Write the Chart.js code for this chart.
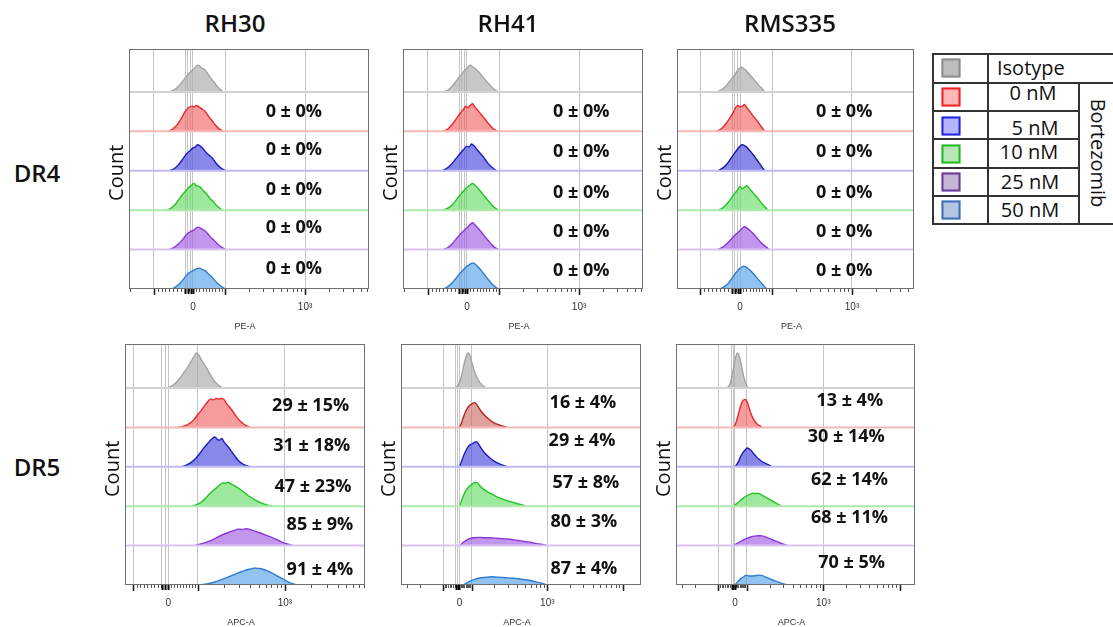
<!DOCTYPE html>
<html><head><meta charset="utf-8">
<script src="https://cdn.jsdelivr.net/npm/chart.js@4.4.1/dist/chart.umd.min.js"></script>
<style>
html,body{margin:0;padding:0;background:#fff;width:1113px;height:627px;overflow:hidden;position:relative;font-family:"Open Sans",sans-serif;color:#111;}
.panel{position:absolute;}
.lbl{position:absolute;transform:translate(-50%,-50%);white-space:nowrap;line-height:1;}
.title{font-size:24px;font-weight:600;}
.rowlab{font-size:24px;font-weight:600;}
.ln{position:absolute;background:#333;}
.sw{position:absolute;width:15px;height:15px;border:2px solid #000;transform:translate(-50%,-50%);}
.lt{position:absolute;font-size:20px;line-height:1;white-space:nowrap;transform:translate(-50%,-50%);}
</style></head><body>
<script>
// ---------------- DATA ----------------
const categories = ['Isotype', '0 nM', '5 nM', '10 nM', '25 nM', '50 nM'];
const treatmentName = 'Bortezomib';
const cellLines = ['RH30', 'RH41', 'RMS335'];
const receptors = ['DR4', 'DR5'];
const xTickLabels = ['0', '10³'];
const axisTitles = ['PE-A', 'APC-A'];
const yAxisTitle = 'Count';

// % positive cells (0 nM .. 50 nM)
const pct_RH30_DR4   = ['0 ± 0%', '0 ± 0%', '0 ± 0%', '0 ± 0%', '0 ± 0%'];
const pct_RH41_DR4   = ['0 ± 0%', '0 ± 0%', '0 ± 0%', '0 ± 0%', '0 ± 0%'];
const pct_RMS335_DR4 = ['0 ± 0%', '0 ± 0%', '0 ± 0%', '0 ± 0%', '0 ± 0%'];
const pct_RH30_DR5   = ['29 ± 15%', '31 ± 18%', '47 ± 23%', '85 ± 9%', '91 ± 4%'];
const pct_RH41_DR5   = ['16 ± 4%', '29 ± 4%', '57 ± 8%', '80 ± 3%', '87 ± 4%'];
const pct_RMS335_DR5 = ['13 ± 4%', '30 ± 14%', '62 ± 14%', '68 ± 11%', '70 ± 5%'];

// histograms: [fluorescence (display units, 0 = "0", 100 = "10³"), relative count]
// order: Isotype, 0, 5, 10, 25, 50 nM
const hist_RH30_DR4 = [
 [[-21,0],[-17,0.05],[-13,0.14],[-9,0.28],[-5,0.42],[-2,0.52],[0,0.56],[2,0.62],[4,0.68],[6,0.66],[8,0.6],[10,0.58],[13,0.47],[16,0.35],[19,0.24],[22,0.13],[25,0.05],[27,0]],
 [[-22,0],[-18,0.06],[-14,0.17],[-10,0.35],[-7,0.5],[-4,0.6],[-1,0.64],[1,0.62],[3,0.66],[5,0.63],[8,0.57],[11,0.5],[14,0.38],[17,0.27],[20,0.16],[23,0.07],[27,0]],
 [[-21,0],[-17,0.05],[-13,0.15],[-9,0.3],[-6,0.42],[-3,0.5],[0,0.58],[2,0.6],[4,0.66],[6,0.64],[9,0.56],[12,0.46],[15,0.38],[18,0.3],[21,0.18],[25,0.07],[29,0]],
 [[-23,0],[-19,0.06],[-15,0.17],[-11,0.33],[-7,0.47],[-4,0.57],[-1,0.64],[1,0.68],[3,0.62],[6,0.6],[9,0.5],[12,0.42],[15,0.3],[18,0.22],[21,0.12],[24,0.05],[26,0]],
 [[-21,0],[-17,0.05],[-13,0.14],[-9,0.26],[-5,0.4],[-2,0.46],[1,0.5],[3,0.55],[5,0.57],[7,0.54],[10,0.49],[13,0.41],[16,0.31],[19,0.23],[22,0.14],[26,0.05],[29,0]],
 [[-19,0],[-15,0.06],[-11,0.16],[-7,0.3],[-4,0.4],[-1,0.45],[2,0.5],[4,0.52],[6,0.53],[8,0.5],[11,0.46],[14,0.38],[17,0.3],[20,0.2],[23,0.12],[26,0.05],[29,0]]
];
const hist_RH41_DR4 = [
 [[-21,0],[-17,0.05],[-13,0.15],[-9,0.3],[-5,0.44],[-2,0.55],[0,0.6],[3,0.68],[5,0.64],[7,0.6],[10,0.52],[13,0.42],[16,0.32],[19,0.22],[22,0.13],[25,0.05],[28,0]],
 [[-21,0],[-17,0.06],[-13,0.18],[-9,0.34],[-6,0.46],[-3,0.56],[-1,0.64],[1,0.6],[3,0.66],[5,0.7],[7,0.62],[10,0.52],[13,0.42],[16,0.32],[19,0.2],[23,0.08],[27,0]],
 [[-22,0],[-18,0.06],[-14,0.16],[-10,0.3],[-6,0.44],[-3,0.54],[0,0.62],[2,0.6],[4,0.68],[6,0.64],[9,0.54],[12,0.44],[15,0.34],[18,0.22],[21,0.12],[24,0.05],[26,0]],
 [[-21,0],[-17,0.05],[-13,0.14],[-9,0.28],[-5,0.42],[-2,0.52],[1,0.6],[3,0.64],[5,0.68],[7,0.64],[10,0.55],[13,0.45],[16,0.34],[19,0.24],[22,0.14],[25,0.06],[28,0]],
 [[-21,0],[-17,0.05],[-13,0.15],[-9,0.29],[-5,0.42],[-2,0.5],[1,0.58],[3,0.64],[5,0.68],[7,0.63],[10,0.54],[13,0.44],[16,0.33],[19,0.23],[22,0.13],[25,0.05],[28,0]],
 [[-21,0],[-17,0.06],[-13,0.16],[-9,0.3],[-5,0.43],[-2,0.52],[1,0.6],[3,0.63],[5,0.66],[7,0.64],[10,0.56],[13,0.46],[16,0.35],[19,0.24],[22,0.14],[25,0.06],[28,0]]
];
const hist_RMS335_DR4 = [
 [[-21,0],[-17,0.05],[-13,0.14],[-9,0.28],[-5,0.42],[-2,0.55],[1,0.63],[3,0.6],[5,0.56],[8,0.46],[11,0.36],[14,0.26],[17,0.16],[20,0.07],[22,0]],
 [[-21,0],[-17,0.06],[-13,0.18],[-9,0.34],[-6,0.48],[-4,0.6],[-2,0.66],[0,0.62],[2,0.64],[4,0.68],[6,0.6],[9,0.5],[12,0.38],[15,0.28],[18,0.16],[20,0.08],[22,0]],
 [[-20,0],[-16,0.06],[-12,0.16],[-8,0.32],[-5,0.44],[-2,0.56],[0,0.62],[2,0.66],[4,0.64],[6,0.6],[9,0.5],[12,0.4],[15,0.28],[18,0.16],[20,0.08],[22,0]],
 [[-20,0],[-16,0.05],[-12,0.15],[-8,0.3],[-5,0.42],[-2,0.52],[0,0.6],[2,0.54],[4,0.58],[6,0.62],[8,0.56],[11,0.46],[14,0.36],[17,0.26],[20,0.15],[23,0.06],[25,0]],
 [[-20,0],[-16,0.05],[-12,0.14],[-8,0.26],[-4,0.38],[-1,0.46],[2,0.54],[4,0.58],[6,0.55],[9,0.48],[12,0.4],[15,0.3],[18,0.2],[21,0.12],[24,0.05],[26,0]],
 [[-18,0],[-14,0.06],[-10,0.16],[-7,0.28],[-4,0.4],[-1,0.5],[1,0.54],[3,0.58],[5,0.56],[8,0.5],[11,0.42],[14,0.32],[17,0.22],[20,0.12],[22,0.05],[24,0]]
];
const hist_RH30_DR5 = [
 [[-2,0],[2,0.04],[6,0.12],[10,0.25],[13,0.38],[16,0.5],[18,0.6],[20,0.7],[22,0.8],[24,0.89],[26,0.84],[28,0.74],[30,0.64],[33,0.5],[36,0.34],[39,0.2],[42,0.1],[45,0.03],[47,0]],
 [[9,0],[14,0.04],[18,0.1],[22,0.2],[25,0.32],[28,0.42],[31,0.55],[34,0.66],[36,0.72],[39,0.7],[41,0.74],[43,0.72],[46,0.74],[48,0.7],[50,0.6],[53,0.5],[56,0.38],[59,0.25],[62,0.15],[66,0.06],[70,0]],
 [[11,0],[15,0.04],[19,0.1],[23,0.2],[27,0.34],[31,0.5],[34,0.6],[37,0.7],[40,0.76],[42,0.7],[44,0.68],[46,0.72],[48,0.62],[51,0.52],[54,0.4],[57,0.28],[60,0.16],[64,0.07],[70,0]],
 [[20,0],[25,0.05],[29,0.12],[33,0.24],[37,0.36],[41,0.46],[44,0.54],[47,0.6],[49,0.58],[51,0.61],[54,0.56],[58,0.5],[62,0.42],[66,0.33],[70,0.24],[75,0.15],[80,0.08],[85,0.03],[90,0]],
 [[22,0],[28,0.04],[34,0.1],[40,0.18],[46,0.27],[52,0.34],[56,0.38],[60,0.42],[63,0.41],[67,0.43],[71,0.4],[76,0.35],[81,0.3],[86,0.24],[91,0.18],[96,0.11],[101,0.05],[107,0]],
 [[27,0],[33,0.03],[39,0.07],[45,0.13],[51,0.2],[57,0.27],[62,0.33],[67,0.38],[71,0.41],[74,0.43],[77,0.42],[81,0.4],[85,0.36],[89,0.3],[94,0.22],[99,0.14],[104,0.06],[110,0]]
];
const hist_RH41_DR5 = [
 [[-5,0],[-2,0.06],[1,0.2],[3,0.38],[5,0.58],[7,0.76],[9,0.88],[10,0.89],[12,0.82],[14,0.66],[16,0.5],[18,0.36],[21,0.22],[24,0.12],[27,0.05],[31,0]],
 [[0,0],[2,0.1],[5,0.3],[8,0.45],[11,0.55],[14,0.6],[17,0.63],[19,0.6],[22,0.5],[25,0.4],[29,0.3],[33,0.22],[37,0.15],[42,0.09],[47,0.05],[51,0.03],[54,0]],
 [[0,0],[2,0.12],[5,0.3],[8,0.44],[11,0.54],[14,0.58],[17,0.62],[19,0.64],[21,0.6],[24,0.5],[27,0.4],[31,0.3],[35,0.22],[40,0.14],[45,0.08],[50,0.04],[55,0]],
 [[0,0],[2,0.12],[5,0.3],[8,0.42],[11,0.5],[14,0.55],[17,0.6],[20,0.6],[23,0.52],[27,0.44],[31,0.38],[36,0.32],[41,0.26],[47,0.2],[53,0.15],[59,0.11],[65,0.07],[71,0.04],[75,0]],
 [[1,0],[4,0.08],[8,0.14],[12,0.18],[16,0.2],[22,0.21],[28,0.2],[34,0.2],[40,0.19],[46,0.18],[52,0.17],[58,0.16],[64,0.14],[70,0.12],[76,0.1],[82,0.08],[88,0.05],[94,0.03],[100,0]],
 [[4,0],[8,0.05],[12,0.1],[17,0.14],[22,0.17],[27,0.19],[32,0.2],[37,0.21],[43,0.2],[49,0.19],[55,0.18],[61,0.17],[67,0.16],[73,0.14],[79,0.12],[85,0.09],[91,0.06],[96,0.03],[100,0]]
];
const hist_RMS335_DR5 = [
 [[-9,0],[-7,0.05],[-5,0.15],[-3,0.35],[-1,0.6],[1,0.8],[3,0.89],[5,0.8],[7,0.6],[9,0.38],[11,0.2],[13,0.08],[15,0]],
 [[-2,0],[0,0.06],[2,0.18],[4,0.35],[6,0.52],[8,0.64],[10,0.7],[12,0.71],[14,0.64],[16,0.5],[18,0.36],[20,0.25],[23,0.14],[26,0.07],[29,0.03],[31,0]],
 [[0,0],[2,0.06],[4,0.14],[6,0.24],[9,0.36],[12,0.44],[14,0.48],[16,0.46],[18,0.42],[21,0.34],[24,0.26],[27,0.2],[31,0.13],[35,0.08],[39,0.04],[42,0]],
 [[-2,0],[1,0.05],[5,0.12],[9,0.2],[13,0.26],[17,0.3],[20,0.33],[23,0.32],[26,0.33],[29,0.3],[33,0.25],[37,0.2],[41,0.15],[45,0.1],[49,0.05],[53,0]],
 [[-2,0],[2,0.05],[6,0.1],[10,0.15],[14,0.19],[18,0.22],[22,0.24],[26,0.25],[29,0.25],[32,0.24],[36,0.21],[40,0.17],[44,0.13],[48,0.1],[52,0.06],[56,0.03],[59,0]],
 [[0,0],[3,0.08],[6,0.15],[10,0.21],[13,0.25],[16,0.23],[20,0.23],[24,0.24],[28,0.25],[31,0.24],[35,0.2],[39,0.16],[43,0.12],[47,0.09],[51,0.06],[55,0.03],[60,0]]
];

// ---------------- STYLE / LAYOUT ----------------
const lineColors = ['#a3a3a3', '#e8282a', '#1c1cc0', '#22c422', '#8a38d8', '#2f7dd0'];
const fillColors = ['rgba(175,175,175,0.7)', 'rgba(240,95,95,0.62)', 'rgba(85,85,222,0.7)', 'rgba(95,218,95,0.62)', 'rgba(165,100,228,0.68)', 'rgba(95,165,232,0.68)'];
const baseColors = ['#d2d2d2', '#f5b8b8', '#bcbcf2', '#aeeaae', '#dcc2f2'];
const swatchFill = ['#bdbdbd', '#ffb7b7', '#b5b5ff', '#b7e6b7', '#c4b5d5', '#b5c5e1'];
const swatchLine = ['#8d8d8d', '#f02222', '#2222e0', '#22bb22', '#6a3c96', '#3c70b4'];

const PL = 34, PR = 8, PT = 4, AX = 46;
const panels = [
 {left:129, top:49, w:240, h:240, xMin:-57, xMax:157, yMax:6.09, grid:[-35,-7,-4.5,-2,0,28.6,100], neg:-35, pos:28.6,
  hist:hist_RH30_DR4, pct:pct_RH30_DR4, pctX:[90,90,90,90,90], pctY:[4.5,3.52,2.52,1.56,0.52], axis:0},
 {left:403, top:49, w:240, h:240, xMin:-57, xMax:157, yMax:6.09, grid:[-35,-7,-4.5,-2,0,28.6,100], neg:-35, pos:28.6,
  hist:hist_RH41_DR4, pct:pct_RH41_DR4, pctX:[102,102,102,102,102], pctY:[4.5,3.49,2.44,1.44,0.46], axis:0},
 {left:677, top:49, w:237, h:240, xMin:-56.3, xMax:155.4, yMax:6.09, grid:[-35.7,-7.1,-4.5,-2.2,0,28.6,100], neg:-35.7, pos:28.6,
  hist:hist_RMS335_DR4, pct:pct_RMS335_DR4, pctX:[93,93,93,93,93], pctY:[4.5,3.49,2.44,1.44,0.46], axis:0,
  lineOverride:{2:'#1a1aa0'}},
 {left:125, top:344, w:240, h:241, xMin:-37.1, xMax:168.6, yMax:6.12, grid:[-30,-5.7,-2.8,0,25.2,100], neg:-30, pos:25.2,
  hist:hist_RH30_DR5, pct:pct_RH30_DR5, pctX:[122,123,124,130,130], pctY:[4.56,3.54,2.48,1.52,0.38], axis:1},
 {left:401, top:344, w:240, h:241, xMin:-66.6, xMax:206.7, yMax:6.12, grid:[-18.5,-4,-2,0,13.9,100], neg:-18.5, pos:13.9,
  hist:hist_RH41_DR5, pct:pct_RH41_DR5, pctX:[140.6,139.5,144,141.7,141.7], pctY:[4.62,3.67,2.6,1.6,0.42], axis:1,
  lineOverride:{1:'#b5261f'}, fillOverride:{1:'rgba(205,110,105,0.65)'}},
 {left:676, top:344, w:239, h:241, xMin:-66.8, xMax:203.9, yMax:6.12, grid:[-18.9,-3.7,-1.9,0,13.2,100], neg:-18.9, pos:13.2,
  hist:hist_RMS335_DR5, pct:pct_RMS335_DR5, pctX:[130,126,129.7,129.7,132], pctY:[4.68,3.75,2.68,1.7,0.56], axis:1}
];

function makeDeco(p) {
  return {
    id: 'deco',
    afterDatasetsDraw(chart) {
      const {ctx, chartArea: a, scales: {x, y}} = chart;
      ctx.save();
      // frame
      ctx.strokeStyle = '#707070'; ctx.lineWidth = 1;
      ctx.strokeRect(Math.round(a.left) + 0.5, Math.round(a.top) + 0.5, Math.round(a.right - a.left) - 1, Math.round(a.bottom - a.top) - 1);
      // tick marks of the biexponential axis
      const L = 100 - p.pos;
      const minor = [];
      for (let k = 1; k < 10; k++) { minor.push(p.neg * k / 10); minor.push(p.pos * k / 10); }
      for (let d = p.pos; d <= p.xMax; d += L) for (let k = 2; k < 10; k++) minor.push(d + L * Math.log10(k));
      for (let d = p.neg; d >= p.xMin; d -= L) for (let k = 2; k < 10; k++) minor.push(d - L * Math.log10(k));
      const major = [p.neg, p.pos, 100, 100 + L, p.neg - L];
      const bot = Math.round(a.bottom);
      const tick = (v, len, w, col) => {
        if (v < p.xMin || v > p.xMax) return;
        const px = Math.round(x.getPixelForValue(v)) + 0.5;
        ctx.beginPath(); ctx.strokeStyle = col; ctx.lineWidth = w;
        ctx.moveTo(px, bot); ctx.lineTo(px, bot + len); ctx.stroke();
      };
      minor.forEach(v => tick(v, 3, 1, '#555'));
      major.forEach(v => tick(v, 6, 1.6, '#222'));
      p.grid.filter(v => v > p.neg && v < p.pos).forEach(v => tick(v, 5, 2, '#000'));
      // percentages
      ctx.fillStyle = '#111'; ctx.textAlign = 'center'; ctx.textBaseline = 'middle';
      ctx.font = 'bold 18px "Open Sans"';
      p.pct.forEach((t, i) => ctx.fillText(t, x.getPixelForValue(p.pctX[i]), y.getPixelForValue(p.pctY[i])));
      // axis titles
      ctx.font = '9px "Liberation Sans"'; ctx.fillStyle = '#333';
      ctx.fillText(axisTitles[p.axis], (a.left + a.right) / 2 - 4, a.bottom + 38);
      ctx.font = '20px "Open Sans"'; ctx.fillStyle = '#111';
      ctx.translate(a.left - 12, y.getPixelForValue(2.95));
      ctx.rotate(-Math.PI / 2);
      ctx.fillText(yAxisTitle, 0, 0);
      ctx.restore();
    }
  };
}

function buildChart(p) {
  const W = p.w + PL + PR, H = p.h + PT + AX;
  const div = document.createElement('div');
  div.className = 'panel';
  Object.assign(div.style, {left: (p.left - PL) + 'px', top: (p.top - PT) + 'px', width: W + 'px', height: H + 'px'});
  const cv = document.createElement('canvas');
  cv.width = W; cv.height = H; cv.style.width = W + 'px'; cv.style.height = H + 'px';
  div.appendChild(cv); document.body.appendChild(div);
  const datasets = [];
  for (let i = 0; i < 5; i++) {
    const base = 5 - i;
    datasets.push({data: [{x: p.xMin, y: base}, {x: p.xMax, y: base}], borderColor: baseColors[i], borderWidth: 2,
      pointRadius: 0, fill: false});
  }
  p.hist.forEach((h, i) => {
    const base = 5 - i;
    const lc = (p.lineOverride && p.lineOverride[i]) || lineColors[i];
    const fc = (p.fillOverride && p.fillOverride[i]) || fillColors[i];
    datasets.push({label: categories[i], data: h.map(([v, c]) => ({x: v, y: base + c})),
      borderColor: lc, backgroundColor: fc, borderWidth: 1.4, pointRadius: 0,
      fill: {value: base}, cubicInterpolationMode: 'monotone'});
  });
  new Chart(cv, {
    type: 'line',
    data: {datasets},
    plugins: [makeDeco(p)],
    options: {
      responsive: false, animation: false, devicePixelRatio: 1,
      layout: {padding: {left: PL, right: PR, top: PT, bottom: 0}},
      plugins: {legend: {display: false}, tooltip: {enabled: false}},
      scales: {
        x: {type: 'linear', min: p.xMin, max: p.xMax,
          afterBuildTicks: s => { s.ticks = p.grid.map(v => ({value: v})); },
          afterFit: s => { s.height = AX; s.paddingLeft = 0; s.paddingRight = 0; s.paddingTop = 0; s.paddingBottom = 0; },
          ticks: {autoSkip: false, maxRotation: 0, minRotation: 0, padding: 12, color: '#333',
            font: {family: 'Liberation Sans', size: 10},
            callback: v => v === 0 ? xTickLabels[0] : (v === 100 ? xTickLabels[1] : '')},
          grid: {color: '#c4c4c4', lineWidth: 1, drawTicks: false},
          border: {display: false}},
        y: {display: false, min: 0, max: p.yMax}
      }
    }
  });
}
panels.forEach(buildChart);

// ---------------- HTML text: titles, row labels, legend ----------------
function addText(cls, txt, x, y, extra) {
  const d = document.createElement('div');
  d.className = cls; d.textContent = txt;
  d.style.left = x + 'px'; d.style.top = y + 'px';
  if (extra) Object.assign(d.style, extra);
  document.body.appendChild(d);
  return d;
}
[[235, 23], [508, 23], [790, 23]].forEach(([x, y], i) => addText('lbl title', cellLines[i], x, y));
[[37, 173], [37, 467]].forEach(([x, y], i) => addText('lbl rowlab', receptors[i], x, y));

function line(x1, y1, x2, y2) {
  const d = document.createElement('div'); d.className = 'ln';
  if (y1 === y2) Object.assign(d.style, {left: x1 + 'px', top: (y1 - 1) + 'px', width: (x2 - x1) + 'px', height: '2px'});
  else Object.assign(d.style, {left: (x1 - 1) + 'px', top: y1 + 'px', width: '2px', height: (y2 - y1) + 'px'});
  document.body.appendChild(d);
}
line(932, 54, 1120, 54); line(932, 83, 1120, 83);
[111, 139, 168, 196].forEach(yy => line(932, yy, 1079, yy));
line(932, 224, 1120, 224);
line(933, 53, 933, 225); line(988, 53, 988, 225); line(1079, 83, 1079, 225);
const swY = [68, 97, 126, 154, 182, 210];
swY.forEach((yy, i) => {
  const s = document.createElement('div'); s.className = 'sw';
  Object.assign(s.style, {left: '951px', top: yy + 'px', background: swatchFill[i], borderColor: swatchLine[i]});
  document.body.appendChild(s);
});
addText('lt', categories[0], 997, 68, {transform: 'translate(0,-50%)'});
[[1033, 93], [1035, 128], [1029, 152], [1030, 182], [1030, 210]].forEach(([x, y], i) => addText('lt', categories[i + 1], x, y));
addText('lt', treatmentName, 1098, 153, {writingMode: 'vertical-rl'});
</script>
</body></html>
